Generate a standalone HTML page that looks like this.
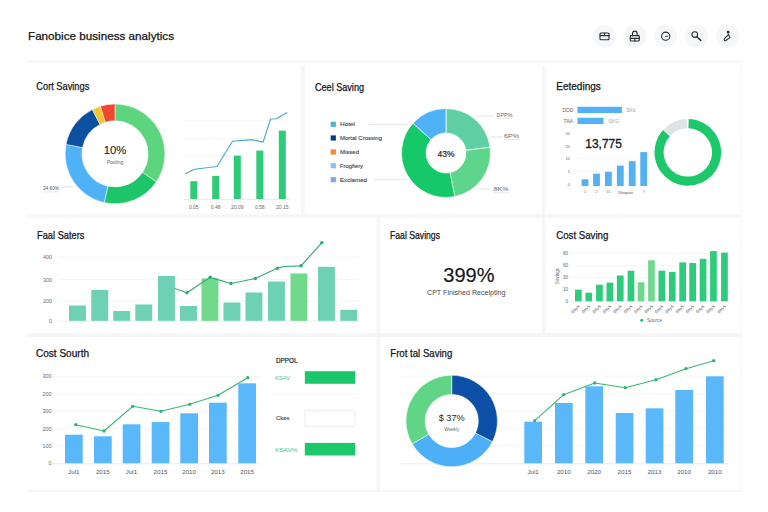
<!DOCTYPE html>
<html><head><meta charset="utf-8"><title>Dashboard</title>
<style>
html,body{margin:0;padding:0;background:#fff;}
body{width:768px;height:512px;overflow:hidden;font-family:"Liberation Sans",sans-serif;}
svg{display:block;font-family:"Liberation Sans",sans-serif;}
.t{font-size:10.3px;fill:#14161a;stroke:#14161a;stroke-width:0.25px;}
.s{font-size:5.5px;fill:#646a72;}
.g{stroke:#f4f5f6;stroke-width:0.9;}
</style></head><body>
<svg width="768" height="512" viewBox="0 0 768 512">
<defs><filter id="b" x="-5%" y="-5%" width="110%" height="110%"><feGaussianBlur stdDeviation="0.45"/></filter>
<filter id="b2" x="-20%" y="-20%" width="140%" height="140%"><feGaussianBlur stdDeviation="0.3"/></filter></defs>
<rect width="768" height="512" fill="#ffffff"/>

<g fill="#f5f6f8" filter="url(#b)">
<rect x="27" y="60.5" width="715" height="2"/>
<rect x="27" y="214.3" width="715" height="3.4"/>
<rect x="27" y="333" width="715" height="4"/>
<rect x="27" y="490" width="715" height="2"/>
<rect x="301" y="66" width="3.5" height="148"/>
<rect x="542" y="66" width="3.5" height="268"/>
<rect x="376.5" y="217" width="3.5" height="274"/>
<rect x="740.5" y="66" width="1.5" height="425" fill="#f8f9fa"/>
</g>
<text x="28" y="40" class="t" style="font-size:11px" textLength="146" lengthAdjust="spacingAndGlyphs">Fanobice business analytics</text>
<circle cx="604.4" cy="36.2" r="11.5" fill="#f6f7f8"/>
<circle cx="634.8" cy="36.2" r="11.5" fill="#f6f7f8"/>
<circle cx="665.7" cy="36.2" r="11.5" fill="#f6f7f8"/>
<circle cx="696.5" cy="36.2" r="11.5" fill="#f6f7f8"/>
<circle cx="727.3" cy="36.2" r="11.5" fill="#f6f7f8"/>
<g fill="none" stroke="#2a2d33" stroke-width="1.1" stroke-linecap="round" stroke-linejoin="round">
<rect x="600" y="33" width="9" height="6.8" rx="1"/><path d="M600,35.6H609M604.5,33V35.6"/>
<rect x="630.3" y="35.6" width="9" height="5.4" rx="0.8"/><path d="M632.5,35.6V33.4a2.3,2.3 0 0 1 4.6,0V35.6M630.3,38.4H639.3M634.8,38.4V41"/>
<circle cx="665.7" cy="36.2" r="4.1"/><path d="M665.7,36.2H667.6"/>
<circle cx="694.8" cy="34.6" r="2.8"/><path d="M696.8,36.8L700.8,40.4" stroke-width="1.5"/>
<circle cx="728.2" cy="32.2" r="0.9" fill="#2a2d33"/><path d="M728.4,34.6L724.5,38.6a1.2,1.2 0 0 0 1.7,1.7L730,37.6M728.4,34.6l1.6,3"/>
</g>
<text x="36.3" y="90.3" class="t" textLength="53" lengthAdjust="spacingAndGlyphs">Cort Savings</text>
<g filter="url(#b)" stroke="#ffffff" stroke-width="0.5">
<path d="M115.00,104.00 A49.9,49.9 0 0 1 156.37,181.80 L142.44,172.41 A33.1,33.1 0 0 0 115.00,120.80 Z" fill="#5dd57e" />
<path d="M156.37,181.80 A49.9,49.9 0 0 1 104.20,202.62 L107.84,186.22 A33.1,33.1 0 0 0 142.44,172.41 Z" fill="#1fc567" />
<path d="M104.20,202.62 A49.9,49.9 0 0 1 66.02,144.38 L82.51,147.58 A33.1,33.1 0 0 0 107.84,186.22 Z" fill="#4fb2f6" />
<path d="M66.02,144.38 A49.9,49.9 0 0 1 92.35,109.44 L99.97,124.41 A33.1,33.1 0 0 0 82.51,147.58 Z" fill="#0b4fa0" />
<path d="M92.35,109.44 A49.9,49.9 0 0 1 100.41,106.18 L105.32,122.25 A33.1,33.1 0 0 0 99.97,124.41 Z" fill="#f7c52d" />
<path d="M100.41,106.18 A49.9,49.9 0 0 1 115.00,104.00 L115.00,120.80 A33.1,33.1 0 0 0 105.32,122.25 Z" fill="#ee4a2f" />
</g>
<text x="115" y="154" text-anchor="middle" style="font-size:11.5px;fill:#1c1f24;stroke:#1c1f24;stroke-width:0.12px" textLength="22.5" lengthAdjust="spacingAndGlyphs">10%</text>
<text x="115" y="163.8" text-anchor="middle" class="s" style="font-size:5px">Pooling</text>
<text x="43" y="190" class="s" style="font-size:5px;fill:#4d535a" textLength="16" lengthAdjust="spacingAndGlyphs">24.60%</text>
<path d="M43,191.8H59" stroke="#c9ced3" stroke-width="0.5"/><path d="M61,187.5L73,186.5" stroke="#c9ced3" stroke-width="0.6"/>
<path d="M184,120.3H290" class="g"/>
<path d="M184,138.4H290" class="g"/>
<path d="M184,156.2H290" class="g"/>
<path d="M184,199.6H290" stroke="#e6e9ec" stroke-width="1"/>
<g fill="#2ecb78" filter="url(#b2)">
<rect x="190.3" y="181.2" width="7" height="17.8"/>
<rect x="212.2" y="175.9" width="7" height="23.1"/>
<rect x="233.8" y="155.6" width="7" height="43.4"/>
<rect x="256.3" y="150.6" width="7" height="48.4"/>
<rect x="278.8" y="130.6" width="7" height="68.4"/>
</g>
<polyline fill="none" stroke="#43abc8" stroke-width="1.1" stroke-linejoin="round" points="185,174 194.4,169.3 216.9,166.5 232.5,141.2 251.9,139.6 263.1,142.1 270.6,119 276.3,118.7 287.2,112.4"/>
<text x="193.8" y="208.8" text-anchor="middle" class="s" style="font-size:5px">0.05</text>
<text x="215.7" y="208.8" text-anchor="middle" class="s" style="font-size:5px">0.48</text>
<text x="237.3" y="208.8" text-anchor="middle" class="s" style="font-size:5px">20.09</text>
<text x="259.8" y="208.8" text-anchor="middle" class="s" style="font-size:5px">0.58</text>
<text x="282.3" y="208.8" text-anchor="middle" class="s" style="font-size:5px">20.15</text>
<text x="315" y="90.7" class="t" textLength="49" lengthAdjust="spacingAndGlyphs">Ceel Saving</text>
<rect x="330.7" y="121.7" width="5.2" height="5.2" fill="#48b9d4"/>
<text x="340" y="126.3" class="s" style="font-size:5.6px;fill:#3f454c;stroke:#3f454c;stroke-width:0.12px" textLength="15" lengthAdjust="spacingAndGlyphs">Hotel</text>
<rect x="330.7" y="135.4" width="5.2" height="5.2" fill="#0b3a82"/>
<text x="340" y="140" class="s" style="font-size:5.6px;fill:#3f454c;stroke:#3f454c;stroke-width:0.12px" textLength="42" lengthAdjust="spacingAndGlyphs">Mortal Crossing</text>
<rect x="330.7" y="149.4" width="5.2" height="5.2" fill="#f08a33"/>
<text x="340" y="154" class="s" style="font-size:5.6px;fill:#3f454c;stroke:#3f454c;stroke-width:0.12px" textLength="19" lengthAdjust="spacingAndGlyphs">Missed</text>
<rect x="330.7" y="163.1" width="5.2" height="5.2" fill="#8cc1ee"/>
<text x="340" y="167.7" class="s" style="font-size:5.6px;fill:#3f454c;stroke:#3f454c;stroke-width:0.12px" textLength="23" lengthAdjust="spacingAndGlyphs">Frogfiery</text>
<rect x="330.7" y="177.1" width="5.2" height="5.2" fill="#86a9d3"/>
<text x="340" y="181.7" class="s" style="font-size:5.6px;fill:#3f454c;stroke:#3f454c;stroke-width:0.12px" textLength="27" lengthAdjust="spacingAndGlyphs">Exclamed</text>
<path d="M368.3,124.3H408.3M373,179.7H407" stroke="#d9dde1" stroke-width="0.7"/>
<g filter="url(#b)" stroke="#ffffff" stroke-width="0.7">
<path d="M446.00,108.50 A44.5,44.5 0 0 1 490.12,147.19 L465.83,150.39 A20,20 0 0 0 446.00,133.00 Z" fill="#60cfa4" />
<path d="M490.12,147.19 A44.5,44.5 0 0 1 454.87,196.61 L449.99,172.60 A20,20 0 0 0 465.83,150.39 Z" fill="#5dd68b" />
<path d="M454.87,196.61 A44.5,44.5 0 0 1 412.93,123.22 L431.14,139.62 A20,20 0 0 0 449.99,172.60 Z" fill="#15c968" />
<path d="M412.93,123.22 A44.5,44.5 0 0 1 446.00,108.50 L446.00,133.00 A20,20 0 0 0 431.14,139.62 Z" fill="#4fb1f6" />
</g>
<text x="446" y="157" text-anchor="middle" style="font-size:8.5px;fill:#1c1f24;stroke:#1c1f24;stroke-width:0.2px">43%</text>
<path d="M477,116H493M490,137H503M477,189H490" stroke="#cdd2d6" stroke-width="0.6"/>
<text x="496.5" y="116.5" class="s" style="font-size:6px" textLength="16" lengthAdjust="spacingAndGlyphs">DPP%</text><path d="M496.5,118.3H512.5" stroke="#c9ced3" stroke-width="0.5"/>
<text x="504" y="137.5" class="s" style="font-size:6px" textLength="15" lengthAdjust="spacingAndGlyphs">6P%</text><path d="M504,139.3H520" stroke="#c9ced3" stroke-width="0.5"/>
<text x="493.5" y="191" class="s" style="font-size:6px" textLength="15" lengthAdjust="spacingAndGlyphs">8K%</text><path d="M493.5,192.8H509" stroke="#c9ced3" stroke-width="0.5"/>
<text x="556.3" y="90.3" class="t" textLength="44.5" lengthAdjust="spacingAndGlyphs">Eetedings</text>
<g fill="#52b1f4" filter="url(#b2)"><rect x="577.5" y="106.8" width="44.4" height="6.3"/><rect x="577.5" y="117.8" width="26" height="6.3"/></g>
<text x="562.5" y="112" class="s" style="font-size:5px">DDD</text><text x="563.5" y="123" class="s" style="font-size:5px">TAA</text>
<text x="626" y="112" class="s" style="font-size:5px;fill:#a3a9b0">SKb</text><text x="608.5" y="123" class="s" style="font-size:5px;fill:#a3a9b0">SKG</text>
<text x="570" y="134.9" text-anchor="end" class="s" style="font-size:4px">50</text>
<text x="570" y="147.7" text-anchor="end" class="s" style="font-size:4px">20</text>
<text x="570" y="160.2" text-anchor="end" class="s" style="font-size:4px">10</text>
<text x="570" y="173.0" text-anchor="end" class="s" style="font-size:4px">5</text>
<text x="570" y="185.8" text-anchor="end" class="s" style="font-size:4px">0</text>
<path d="M577,158.7H650M577,171.5H650" stroke="#f1f2f4" stroke-width="0.8"/>
<text x="585.3" y="148.4" style="font-size:12px;fill:#1c1f24;stroke:#1c1f24;stroke-width:0.35px" textLength="36.6" lengthAdjust="spacingAndGlyphs">13,775</text>
<g fill="#52b1f4" filter="url(#b2)">
<rect x="581.6" y="179.3" width="6.8" height="6.7"/>
<rect x="593.1" y="173.7" width="6.8" height="12.3"/>
<rect x="605" y="171.8" width="6.8" height="14.2"/>
<rect x="616.9" y="165.6" width="6.8" height="20.4"/>
<rect x="628.8" y="161.2" width="6.8" height="24.8"/>
<rect x="640.3" y="152.1" width="6.8" height="33.9"/>
</g>
<text x="585.0" y="193.3" text-anchor="middle" class="s" style="font-size:3.6px">1</text>
<text x="596.5" y="193.3" text-anchor="middle" class="s" style="font-size:3.6px">2</text>
<text x="608.4" y="193.3" text-anchor="middle" class="s" style="font-size:3.6px">11</text>
<text x="625.5" y="193.5" text-anchor="middle" class="s" style="font-size:4.2px;fill:#4e545b">Dhapatt</text>
<text x="643.7" y="193.3" text-anchor="middle" class="s" style="font-size:3.6px">7</text>
<g filter="url(#b)">
<path d="M688.67,119.11 A33.3,33.3 0 1 1 663.05,130.12 L669.82,136.21 A24.2,24.2 0 1 0 688.43,128.21 Z" fill="#1fc86b" />
<path d="M663.65,129.48 A33.3,33.3 0 0 1 686.64,119.12 L686.96,128.21 A24.2,24.2 0 0 0 670.25,135.74 Z" fill="#dde3e7" />
</g>
<text x="37" y="238.7" class="t" textLength="47.5" lengthAdjust="spacingAndGlyphs">Faal Saters</text>
<path d="M58.8,257.3H358.5" class="g"/>
<path d="M58.8,279.5H358.5" class="g"/>
<path d="M58.8,300.8H358.5" class="g"/>
<path d="M58.8,321.2H358.5" stroke="#eceef0" stroke-width="1"/>
<text x="52" y="259.3" text-anchor="end" class="s" style="font-size:5.4px">400</text>
<text x="52" y="281.5" text-anchor="end" class="s" style="font-size:5.4px">300</text>
<text x="52" y="302.8" text-anchor="end" class="s" style="font-size:5.4px">200</text>
<text x="52" y="322.5" text-anchor="end" class="s" style="font-size:5.4px">0</text>
<g filter="url(#b2)">
<rect x="69" y="305.5" width="16.9" height="15.3" fill="#6ed1b4"/>
<rect x="91.3" y="290" width="16.9" height="30.8" fill="#6ed1b4"/>
<rect x="113.3" y="311" width="16.9" height="9.8" fill="#6ed1b4"/>
<rect x="135.3" y="304.5" width="16.9" height="16.3" fill="#6ed1b4"/>
<rect x="158" y="276" width="16.9" height="44.8" fill="#6ed1b4"/>
<rect x="180" y="306" width="16.9" height="14.8" fill="#6ed1b4"/>
<rect x="201.5" y="278.5" width="16.9" height="42.3" fill="#6fd98b"/>
<rect x="223.5" y="302.5" width="16.9" height="18.3" fill="#6ed1b4"/>
<rect x="245.5" y="292.5" width="16.9" height="28.3" fill="#6ed1b4"/>
<rect x="268" y="281.5" width="16.9" height="39.3" fill="#6ed1b4"/>
<rect x="290.5" y="273.5" width="16.9" height="47.3" fill="#6fd98b"/>
<rect x="318" y="266.8" width="16.9" height="54.0" fill="#6ed1b4"/>
<rect x="340.3" y="309.8" width="16.9" height="11.0" fill="#6ed1b4"/>
</g>
<polyline fill="none" stroke="#31ae76" stroke-width="1.2" stroke-linejoin="round" points="174.8,288.5 187,292.8 210.2,277.3 231,283.5 255.3,278.5 277.3,268.3 283.5,266.5 301,265.8 321.8,242.8"/>
<circle cx="187" cy="292.8" r="1.7" fill="#2cab73"/>
<circle cx="210.2" cy="277.3" r="1.7" fill="#2cab73"/>
<circle cx="231" cy="283.5" r="1.7" fill="#2cab73"/>
<circle cx="255.3" cy="278.5" r="1.7" fill="#2cab73"/>
<circle cx="277.3" cy="268.3" r="1.7" fill="#2cab73"/>
<circle cx="301" cy="265.8" r="1.7" fill="#2cab73"/>
<circle cx="321.8" cy="242.8" r="1.7" fill="#2cab73"/>
<text x="390" y="238.7" class="t" textLength="50" lengthAdjust="spacingAndGlyphs">Faal Savings</text>
<text x="443.3" y="282.3" style="font-size:20px;fill:#16181c;stroke:#16181c;stroke-width:0.18px" textLength="51.2" lengthAdjust="spacingAndGlyphs">399%</text>
<text x="427" y="295" class="s" style="font-size:6.4px;fill:#454b52" textLength="78.5" lengthAdjust="spacingAndGlyphs">CPT Finished Receipting</text>
<text x="556.3" y="238.7" class="t" textLength="52" lengthAdjust="spacingAndGlyphs">Cost Saving</text>
<path d="M569.7,253.2H730" stroke="#f0f2f3" stroke-width="0.8"/>
<path d="M569.7,265.7H730" stroke="#f0f2f3" stroke-width="0.8"/>
<path d="M569.7,277.5H730" stroke="#f0f2f3" stroke-width="0.8"/>
<path d="M569.7,289.1H730" stroke="#f0f2f3" stroke-width="0.8"/>
<path d="M569.7,301.6H730" stroke="#eceef0" stroke-width="0.8"/>
<text x="568" y="254.89999999999998" text-anchor="end" class="s" style="font-size:4.6px">80</text>
<text x="568" y="267.4" text-anchor="end" class="s" style="font-size:4.6px">60</text>
<text x="568" y="279.2" text-anchor="end" class="s" style="font-size:4.6px">30</text>
<text x="568" y="290.8" text-anchor="end" class="s" style="font-size:4.6px">10</text>
<text x="568" y="302.7" text-anchor="end" class="s" style="font-size:4.6px">0</text>
<text transform="translate(558.5,276) rotate(-90)" text-anchor="middle" class="s" style="font-size:4.6px">Savings</text>
<g filter="url(#b2)">
<rect x="575" y="289.7" width="6.7" height="11.6" fill="#2fcb7b"/>
<rect x="585.4" y="292.7" width="6.7" height="8.6" fill="#2fcb7b"/>
<rect x="596.1" y="284.7" width="6.7" height="16.6" fill="#2fcb7b"/>
<rect x="606.5" y="282.6" width="6.7" height="18.7" fill="#2fcb7b"/>
<rect x="616.9" y="275.5" width="6.7" height="25.8" fill="#2fcb7b"/>
<rect x="627.6" y="270.7" width="6.7" height="30.6" fill="#2fcb7b"/>
<rect x="637.7" y="282.3" width="6.7" height="19.0" fill="#6fd78f"/>
<rect x="648.1" y="260.3" width="6.7" height="41.0" fill="#6fd78f"/>
<rect x="658.5" y="270.7" width="6.7" height="30.6" fill="#2fcb7b"/>
<rect x="668.9" y="271.9" width="6.7" height="29.4" fill="#2fcb7b"/>
<rect x="679.3" y="262.4" width="6.7" height="38.9" fill="#2fcb7b"/>
<rect x="689.3" y="263" width="6.7" height="38.3" fill="#2fcb7b"/>
<rect x="699.7" y="258.8" width="6.7" height="42.5" fill="#2fcb7b"/>
<rect x="710.1" y="251.1" width="6.7" height="50.2" fill="#2fcb7b"/>
<rect x="721.1" y="252.6" width="6.7" height="48.7" fill="#2fcb7b"/>
</g>
<text transform="translate(580,306.5) rotate(-45)" text-anchor="end" class="s" style="font-size:4.8px;fill:#5f666e">days</text>
<text transform="translate(590.4,306.5) rotate(-45)" text-anchor="end" class="s" style="font-size:4.8px;fill:#5f666e">days</text>
<text transform="translate(601.1,306.5) rotate(-45)" text-anchor="end" class="s" style="font-size:4.8px;fill:#5f666e">days</text>
<text transform="translate(611.5,306.5) rotate(-45)" text-anchor="end" class="s" style="font-size:4.8px;fill:#5f666e">days</text>
<text transform="translate(621.9,306.5) rotate(-45)" text-anchor="end" class="s" style="font-size:4.8px;fill:#5f666e">days</text>
<text transform="translate(632.6,306.5) rotate(-45)" text-anchor="end" class="s" style="font-size:4.8px;fill:#5f666e">days</text>
<text transform="translate(642.7,306.5) rotate(-45)" text-anchor="end" class="s" style="font-size:4.8px;fill:#5f666e">days</text>
<text transform="translate(653.1,306.5) rotate(-45)" text-anchor="end" class="s" style="font-size:4.8px;fill:#5f666e">days</text>
<text transform="translate(663.5,306.5) rotate(-45)" text-anchor="end" class="s" style="font-size:4.8px;fill:#5f666e">days</text>
<text transform="translate(673.9,306.5) rotate(-45)" text-anchor="end" class="s" style="font-size:4.8px;fill:#5f666e">days</text>
<text transform="translate(684.3,306.5) rotate(-45)" text-anchor="end" class="s" style="font-size:4.8px;fill:#5f666e">days</text>
<text transform="translate(694.3,306.5) rotate(-45)" text-anchor="end" class="s" style="font-size:4.8px;fill:#5f666e">days</text>
<text transform="translate(704.7,306.5) rotate(-45)" text-anchor="end" class="s" style="font-size:4.8px;fill:#5f666e">days</text>
<text transform="translate(715.1,306.5) rotate(-45)" text-anchor="end" class="s" style="font-size:4.8px;fill:#5f666e">days</text>
<text transform="translate(726.1,306.5) rotate(-45)" text-anchor="end" class="s" style="font-size:4.8px;fill:#5f666e">days</text>
<circle cx="641.8" cy="320.3" r="1.5" fill="#1fc36b"/><text x="647" y="322" class="s" style="font-size:4.8px">Source</text>
<text x="36" y="357" class="t" textLength="53" lengthAdjust="spacingAndGlyphs">Cost Sourth</text>
<path d="M51.7,376.3H260" class="g"/>
<path d="M51.7,394H260" class="g"/>
<path d="M51.7,411.3H260" class="g"/>
<path d="M51.7,428.7H260" class="g"/>
<path d="M51.7,446H260" class="g"/>
<path d="M51.7,463.8H260" stroke="#e9ecee" stroke-width="1"/>
<text x="51.5" y="378.3" text-anchor="end" class="s" style="font-size:5.4px">300</text>
<text x="51.5" y="396" text-anchor="end" class="s" style="font-size:5.4px">200</text>
<text x="51.5" y="413.3" text-anchor="end" class="s" style="font-size:5.4px">300</text>
<text x="51.5" y="430.7" text-anchor="end" class="s" style="font-size:5.4px">200</text>
<text x="51.5" y="448" text-anchor="end" class="s" style="font-size:5.4px">100</text>
<text x="51.5" y="465.3" text-anchor="end" class="s" style="font-size:5.4px">0</text>
<g fill="#5ab8fa" filter="url(#b2)">
<rect x="65" y="434.7" width="17.7" height="28.6"/>
<rect x="94" y="436.3" width="17.7" height="27.0"/>
<rect x="122.7" y="424.3" width="17.7" height="39.0"/>
<rect x="151.7" y="422" width="17.7" height="41.3"/>
<rect x="180.3" y="413.3" width="17.7" height="50.0"/>
<rect x="209" y="402.7" width="17.7" height="60.6"/>
<rect x="238.3" y="383.3" width="17.7" height="80.0"/>
</g>
<polyline fill="none" stroke="#36b877" stroke-width="1.1" stroke-linejoin="round" points="75.7,424.7 104,431 132.7,406.3 161,411.3 189.7,404.3 218,395.3 247.7,377.7"/>
<circle cx="75.7" cy="424.7" r="1.65" fill="#2fb572"/>
<circle cx="104" cy="431" r="1.65" fill="#2fb572"/>
<circle cx="132.7" cy="406.3" r="1.65" fill="#2fb572"/>
<circle cx="161" cy="411.3" r="1.65" fill="#2fb572"/>
<circle cx="189.7" cy="404.3" r="1.65" fill="#2fb572"/>
<circle cx="218" cy="395.3" r="1.65" fill="#2fb572"/>
<circle cx="247.7" cy="377.7" r="1.65" fill="#2fb572"/>
<text x="73.8" y="473.5" text-anchor="middle" class="s" style="font-size:6.2px;fill:#50565d">Jul1</text>
<text x="102.8" y="473.5" text-anchor="middle" class="s" style="font-size:6.2px;fill:#50565d">2015</text>
<text x="131.5" y="473.5" text-anchor="middle" class="s" style="font-size:6.2px;fill:#50565d">Jul1</text>
<text x="160.5" y="473.5" text-anchor="middle" class="s" style="font-size:6.2px;fill:#50565d">2015</text>
<text x="189.10000000000002" y="473.5" text-anchor="middle" class="s" style="font-size:6.2px;fill:#50565d">2010</text>
<text x="217.8" y="473.5" text-anchor="middle" class="s" style="font-size:6.2px;fill:#50565d">2013</text>
<text x="247.10000000000002" y="473.5" text-anchor="middle" class="s" style="font-size:6.2px;fill:#50565d">2015</text>
<text x="276" y="362.5" class="s" style="font-size:6.4px;fill:#1c1f24;stroke:#1c1f24;stroke-width:0.2px" textLength="21.5" lengthAdjust="spacingAndGlyphs">DPPOL</text>
<rect x="304.8" y="371.2" width="50.4" height="12.6" fill="#1fc76c" filter="url(#b2)"/>
<text x="275" y="379.8" class="s" style="font-size:5.8px;fill:#45c796" textLength="15" lengthAdjust="spacingAndGlyphs">KSAV</text>
<path d="M272,393.8H358" stroke="#f6f7f8" stroke-width="0.8"/>
<rect x="304.8" y="410.7" width="50.4" height="15.6" rx="1.2" fill="#fff" stroke="#e3e6e9" stroke-width="0.8"/>
<text x="276" y="420" class="s" style="font-size:6px;fill:#3a3f46;stroke:#3a3f46;stroke-width:0.1px" textLength="13.5" lengthAdjust="spacingAndGlyphs">Ckes</text>
<rect x="304.8" y="442.9" width="50.4" height="12.6" fill="#1fc76c" filter="url(#b2)"/>
<text x="275" y="451.5" class="s" style="font-size:5.8px;fill:#45c796" textLength="22.5" lengthAdjust="spacingAndGlyphs">KSAV%</text>
<text x="390.3" y="357.3" class="t" textLength="62" lengthAdjust="spacingAndGlyphs">Frot tal Saving</text>
<path d="M401,376.2H728" class="g"/>
<path d="M401,393.8H728" class="g"/>
<path d="M401,411H728" class="g"/>
<path d="M401,428.4H728" class="g"/>
<path d="M401,445.6H728" class="g"/>
<path d="M401,463.8H728" stroke="#e9ecee" stroke-width="1"/>
<g filter="url(#b)" stroke="#ffffff" stroke-width="0.5">
<path d="M451.70,375.30 A45.7,45.7 0 0 1 492.42,441.75 L475.40,433.08 A26.6,26.6 0 0 0 451.70,394.40 Z" fill="#0b50a6" />
<path d="M492.42,441.75 A45.7,45.7 0 0 1 412.12,443.85 L428.66,434.30 A26.6,26.6 0 0 0 475.40,433.08 Z" fill="#4eaff8" />
<path d="M412.12,443.85 A45.7,45.7 0 0 1 451.70,375.30 L451.70,394.40 A26.6,26.6 0 0 0 428.66,434.30 Z" fill="#5ed585" />
</g>
<circle cx="451.7" cy="421" r="26.3" fill="#fff"/>
<text x="451.7" y="421" text-anchor="middle" style="font-size:8.5px;fill:#1c1f24" textLength="26" lengthAdjust="spacingAndGlyphs">$ 37%</text>
<text x="451.7" y="430.5" text-anchor="middle" class="s" style="font-size:4.6px">Weekly</text>
<g fill="#5ab8fa" filter="url(#b2)">
<rect x="524.3" y="421.7" width="17.7" height="41.6"/>
<rect x="555" y="403" width="17.7" height="60.3"/>
<rect x="585.3" y="386.3" width="17.7" height="77.0"/>
<rect x="615.7" y="413" width="17.7" height="50.3"/>
<rect x="645.7" y="408.3" width="17.7" height="55.0"/>
<rect x="675.3" y="390" width="17.7" height="73.3"/>
<rect x="706" y="376.3" width="17.7" height="87.0"/>
</g>
<polyline fill="none" stroke="#36b877" stroke-width="1.1" stroke-linejoin="round" points="534.7,420.7 563.7,394.7 594.7,383 625.3,387.7 656,379.7 686,368.7 713.7,360.7"/>
<circle cx="534.7" cy="420.7" r="1.65" fill="#2fb572"/>
<circle cx="563.7" cy="394.7" r="1.65" fill="#2fb572"/>
<circle cx="594.7" cy="383" r="1.65" fill="#2fb572"/>
<circle cx="625.3" cy="387.7" r="1.65" fill="#2fb572"/>
<circle cx="656" cy="379.7" r="1.65" fill="#2fb572"/>
<circle cx="686" cy="368.7" r="1.65" fill="#2fb572"/>
<circle cx="713.7" cy="360.7" r="1.65" fill="#2fb572"/>
<text x="533.0999999999999" y="473.8" text-anchor="middle" class="s" style="font-size:6.2px;fill:#50565d">Jul1</text>
<text x="563.8" y="473.8" text-anchor="middle" class="s" style="font-size:6.2px;fill:#50565d">2010</text>
<text x="594.0999999999999" y="473.8" text-anchor="middle" class="s" style="font-size:6.2px;fill:#50565d">2020</text>
<text x="624.5" y="473.8" text-anchor="middle" class="s" style="font-size:6.2px;fill:#50565d">2015</text>
<text x="654.5" y="473.8" text-anchor="middle" class="s" style="font-size:6.2px;fill:#50565d">2013</text>
<text x="684.0999999999999" y="473.8" text-anchor="middle" class="s" style="font-size:6.2px;fill:#50565d">2010</text>
<text x="714.8" y="473.8" text-anchor="middle" class="s" style="font-size:6.2px;fill:#50565d">2010</text>
</svg></body></html>
